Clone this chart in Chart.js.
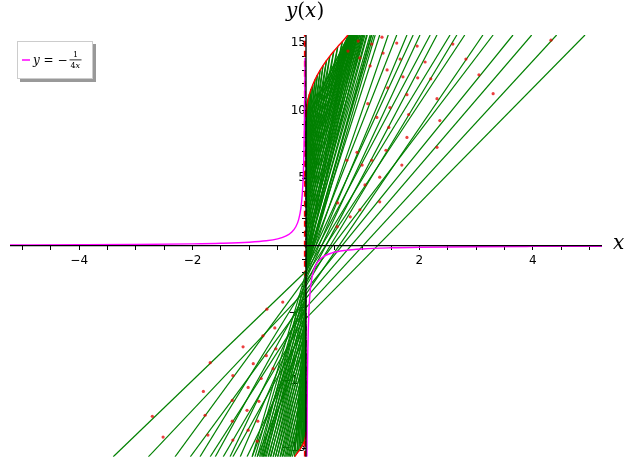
<!DOCTYPE html>
<html>
<head>
<meta charset="utf-8">
<script src="https://cdn.jsdelivr.net/npm/chart.js@4.4.0/dist/chart.umd.min.js"></script>
<style>
  html, body { margin: 0; padding: 0; background: #fff; }
  #wrap { width: 630px; height: 468px; }
</style>
</head>
<body>
<div id="wrap"><canvas id="plot" width="630" height="468"></canvas></div>
<script>
// axis ranges and ticks
var xMin = -5.22, xMax = 5.22, yMin = -15.65, yMax = 15.6;
var xTickVals = [-5, -4.5, -4, -3.5, -3, -2.5, -2, -1.5, -1, -0.5, 0.5, 1, 1.5, 2, 2.5, 3, 3.5, 4, 4.5, 5];
var yTickVals = [-15, -14, -13, -12, -11, -10, -9, -8, -7, -6, -5, -4, -3, -2, -1,
                 1, 2, 3, 4, 5, 6, 7, 8, 9, 10, 11, 12, 13, 14, 15];
var xLabels = [-4, -2, 2, 4];
var yLabels = [-15, -10, -5, 5, 10, 15];

// magenta curve y = -1/(4x), both branches
var hypLeftX = [-5.22, -4, -3, -2, -1.5, -1, -0.7, -0.5, -0.35, -0.25, -0.18, -0.13, -0.09, -0.065, -0.048, -0.036, -0.028, -0.022, -0.018];
var hypLeftY = [0.048, 0.0625, 0.083, 0.125, 0.167, 0.25, 0.357, 0.5, 0.714, 1.0, 1.39, 1.92, 2.78, 3.85, 5.21, 6.94, 8.93, 11.36, 13.89];
var hypRightX = [0.016, 0.02, 0.025, 0.032, 0.04, 0.05, 0.065, 0.085, 0.11, 0.15, 0.2, 0.3, 0.45, 0.7, 1, 1.5, 2, 3, 4, 5.22];
var hypRightY = [-15.65, -12.5, -10, -7.81, -6.25, -5, -3.85, -2.94, -2.27, -1.67, -1.25, -0.833, -0.556, -0.357, -0.25, -0.167, -0.125, -0.083, -0.0625, -0.048];

// green fan right of the axis: start on the axis (y = b), end on the top edge
var fanRightB    = [-5.4, -4.6, -3.9, -3.3, -2.6, -3.6, -2.2, -3.0, -1.9, -2.8, -1.7, -2.5, -1.6, -2.3, -1.5, -2.1, -1.4, -1.9, -1.2, -1.6, -1.0, -1.3];
var fanRightTopX = [4.92, 4.42, 3.98, 3.65, 3.30, 3.12, 2.80, 2.66, 2.54, 2.31, 2.19, 2.01, 1.89, 1.78, 1.60, 1.45, 1.30, 1.16, 1.00, 0.90, 0.83, 0.76];

// dense green bundle right of the axis, also ending on the top edge
var denseRightB    = [-2.0, -1.7, -1.4, -1.1, -0.8, -0.5, -0.2, 0.1, 0.4, 0.7, 1.0, 1.3, 1.6, 1.9, 2.2, 2.5, 2.8, 3.1, 3.4, 3.7,
                      4.0, 4.3, 4.6, 4.9, 5.2, 5.5, 5.8, 6.1, 6.4, 6.7, 7.0, 7.3, 7.6, 7.9, 8.2, 8.5, 8.8, 9.1, 9.4];
var denseRightTopX = [1.22, 1.15, 1.19, 1.08, 1.13, 1.02, 1.07, 0.98, 1.04, 0.95, 1.00, 0.92, 0.97, 0.90, 0.94, 0.88, 0.92, 0.86, 0.90, 0.85,
                      0.88, 0.83, 0.87, 0.82, 0.85, 0.81, 0.84, 0.80, 0.83, 0.79, 0.81, 0.78, 0.80, 0.77, 0.79, 0.76, 0.78, 0.75, 0.76];

// green wedge right of the axis: start on the axis, end on the red upper edge
var wedgeRightB    = [9.0, 8.2, 8.6, 7.6, 8.2, 7.0, 7.8, 6.4, 7.4, 5.8, 7.0, 5.2, 6.6, 4.6, 6.2, 4.0, 5.8, 3.4, 5.4, 2.8, 5.0, 2.2, 4.6, 1.6, 4.2, 1.0, 3.8, 0.4, 3.4, -0.2, 3.0, -0.8];
var wedgeRightEndX = [0.01, 0.01, 0.02, 0.02, 0.04, 0.04, 0.06, 0.06, 0.09, 0.09, 0.12, 0.12, 0.16, 0.16, 0.2, 0.2, 0.25, 0.25, 0.3, 0.3, 0.36, 0.36, 0.42, 0.42, 0.49, 0.49, 0.56, 0.56, 0.64, 0.64, 0.74, 0.74];
var wedgeRightEndY = [10.2, 10.2, 10.49, 10.49, 10.9, 10.9, 11.21, 11.21, 11.6, 11.6, 11.92, 11.92, 12.3, 12.3, 12.63, 12.63, 13.0, 13.0, 13.33, 13.33, 13.7, 13.7, 14.04, 14.04, 14.4, 14.4, 14.74, 14.74, 15.1, 15.1, 15.6, 15.6];

// green fan left of the axis: start on the axis, end on the bottom edge
var fanLeftB    = [-1.9, -3.3, -2.4, -4.0, -2.9, -4.6, -3.5, -5.2, -4.0, -6.0, -4.5, -6.6, -5.2, -7.3, -5.8];
var fanLeftBotX = [-3.40, -2.78, -2.31, -2.04, -1.87, -1.69, -1.60, -1.46, -1.34, -1.29, -1.16, -1.04, -0.95, -0.86, -0.76];

// dense green bundle left of the axis, also ending on the bottom edge
var denseLeftB    = [-2.0, -2.3, -2.6, -2.9, -3.2, -3.5, -3.8, -4.1, -4.4, -4.7, -5.0, -5.3, -5.6, -5.9, -6.2, -6.5,
                     -6.8, -7.1, -7.4, -7.7, -8.0, -8.3, -8.6, -8.9, -9.2, -9.5, -9.8, -10.1, -10.4, -10.7, -11.0, -11.3];
var denseLeftBotX = [-0.95, -0.82, -0.90, -0.78, -0.86, -0.74, -0.80, -0.70, -0.76, -0.66, -0.72, -0.62, -0.67, -0.58, -0.63, -0.54,
                     -0.58, -0.50, -0.54, -0.46, -0.50, -0.42, -0.45, -0.38, -0.41, -0.34, -0.36, -0.30, -0.32, -0.27, -0.28, -0.24];

// green wedge left of the axis: start on the axis, end on the red lower edge
var wedgeLeftB    = [-13.0, -12.0, -12.5, -11.0, -12.0, -10.0, -11.0, -9.0, -10.5, -8.0, -10.0, -7.0, -9.0, -6.0, -8.0, -5.0, -7.0, -4.0, -6.0, -3.5];
var wedgeLeftEndX = [-0.005, -0.005, -0.01, -0.01, -0.02, -0.02, -0.035, -0.035, -0.05, -0.05, -0.07, -0.07, -0.1, -0.1, -0.13, -0.13, -0.16, -0.16, -0.2, -0.2];
var wedgeLeftEndY = [-14.08, -14.08, -14.2, -14.2, -14.37, -14.37, -14.55, -14.55, -14.69, -14.69, -14.86, -14.86, -15.06, -15.06, -15.24, -15.24, -15.4, -15.4, -15.65, -15.65];

// red edges of the green wedges
var edgeUpX = [0, 0.01, 0.02, 0.04, 0.06, 0.09, 0.12, 0.16, 0.2, 0.25, 0.3, 0.36, 0.42, 0.49, 0.56, 0.64, 0.74];
var edgeUpY = [9.5, 10.2, 10.49, 10.9, 11.21, 11.6, 11.92, 12.3, 12.63, 13.0, 13.33, 13.7, 14.04, 14.4, 14.74, 15.1, 15.6];
var edgeLowX = [-0.2, -0.16, -0.13, -0.1, -0.07, -0.05, -0.035, -0.02, -0.01, -0.005, 0];
var edgeLowY = [-15.65, -15.4, -15.24, -15.06, -14.86, -14.69, -14.55, -14.37, -14.2, -14.08, -13.8];

// red dots sitting on the green lines
var dotX = [1.34, 1.60, 1.96, 2.59, 1.36, 1.66, 2.10, 2.82, 1.43, 1.71, 2.20, 3.05, 1.44, 1.78, 2.31, 3.30, 1.48, 1.81, 2.36,
            1.46, 1.78, 2.31, 1.41, 4.32, 0.92, 1.16, 0.74, 0.95, 1.13, 1.09, 1.25, 1.97,
            0.72, 0.90, 0.99, 1.16, 1.30, 1.69, 1.04, 0.95, 0.78, 0.56, 0.55, 1.30,
            -2.71, -2.52, -1.69, -1.81, -1.78, -1.73, -1.29, -1.30, -1.30, -1.29, -1.11, -0.93, -1.02, -1.04, -1.02,
            -0.69, -0.76, -0.70, -0.79, -0.83, -0.85, -0.86, -0.55, -0.41, -0.53, -0.58];
var dotY = [15.44, 15.0, 14.78, 14.93, 14.26, 13.82, 13.60, 13.82, 13.01, 12.5, 12.35, 12.65, 11.69, 11.18, 10.88, 11.25, 10.22, 9.71, 9.26,
            8.75, 8.01, 7.28, 7.06, 15.22, 15.15, 14.93, 14.41, 13.9, 13.31, 10.51, 9.49, 12.43,
            6.32, 6.91, 5.96, 6.32, 5.07, 5.96, 4.49, 2.65, 2.13, 3.16, 1.40, 3.24,
            -12.65, -14.19, -8.68, -10.81, -12.57, -14.04, -9.63, -11.47, -13.01, -14.41, -7.5, -8.75, -10.51, -12.21, -13.68,
            -4.71, -6.69, -8.16, -9.85, -11.54, -13.01, -14.49, -6.10, -4.19, -7.65, -9.12];

function pts(xs, ys) {
  var out = [];
  for (var i = 0; i < xs.length; i++) out.push({ x: xs[i], y: ys[i] });
  return out;
}

function fmt(v) {
  return v < 0 ? "\u2212" + Math.abs(v) : String(v);
}

var GREEN = "#008000";
var datasets = [];

datasets.push({ label: "hyp-left", data: pts(hypLeftX, hypLeftY), borderColor: "#ff00ff", borderWidth: 1.4,
                cubicInterpolationMode: "monotone", pointRadius: 0, showLine: true, order: 0 });
datasets.push({ label: "hyp-right", data: pts(hypRightX, hypRightY), borderColor: "#ff00ff", borderWidth: 1.4,
                cubicInterpolationMode: "monotone", pointRadius: 0, showLine: true, order: 0 });
datasets.push({ label: "dots", data: pts(dotX, dotY), backgroundColor: "rgba(230,0,0,0.75)", borderWidth: 0,
                pointRadius: 1.6, showLine: false, order: 1 });
datasets.push({ label: "edge-up", data: pts(edgeUpX, edgeUpY), borderColor: "#ff0000", borderWidth: 1.4,
                cubicInterpolationMode: "monotone", pointRadius: 0, showLine: true, order: 2 });
datasets.push({ label: "edge-low", data: pts(edgeLowX, edgeLowY), borderColor: "#ff0000", borderWidth: 1.4,
                pointRadius: 0, showLine: true, order: 2 });

function greenLine(x0, y0, x1, y1) {
  datasets.push({ data: [{ x: x0, y: y0 }, { x: x1, y: y1 }], borderColor: GREEN, borderWidth: 1.2,
                  pointRadius: 0, showLine: true, order: 3 });
}
for (var i = 0; i < fanRightB.length; i++) greenLine(0, fanRightB[i], fanRightTopX[i], yMax);
for (var i = 0; i < denseRightB.length; i++) greenLine(0, denseRightB[i], denseRightTopX[i], yMax);
for (var i = 0; i < wedgeRightB.length; i++) greenLine(0, wedgeRightB[i], wedgeRightEndX[i], wedgeRightEndY[i]);
for (var i = 0; i < fanLeftB.length; i++) greenLine(0, fanLeftB[i], fanLeftBotX[i], yMin);
for (var i = 0; i < denseLeftB.length; i++) greenLine(0, denseLeftB[i], denseLeftBotX[i], yMin);
for (var i = 0; i < wedgeLeftB.length; i++) greenLine(0, wedgeLeftB[i], wedgeLeftEndX[i], wedgeLeftEndY[i]);

datasets.push({ label: "x0", data: [{ x: -0.02, y: yMin }, { x: -0.02, y: yMax }], borderColor: "#ff0000",
                borderWidth: 2, borderDash: [6, 4], pointRadius: 0, showLine: true, order: 4 });

// write a run of text pieces, some italic, starting at x
function drawRuns(ctx, runs, x, y, size) {
  for (var i = 0; i < runs.length; i++) {
    ctx.font = (runs[i][1] ? "italic " : "") + size + "px 'DejaVu Serif'";
    ctx.fillText(runs[i][0], x, y);
    x += ctx.measureText(runs[i][0]).width;
  }
  return x;
}

var overlay = {
  id: "overlay",
  afterDatasetsDraw: function(chart) {
    var ctx = chart.ctx, a = chart.chartArea;
    var x0 = chart.scales.x.getPixelForValue(0), y0 = chart.scales.y.getPixelForValue(0);
    ctx.save();
    ctx.strokeStyle = "#000";
    ctx.lineWidth = 1.3;
    ctx.beginPath();
    ctx.moveTo(a.left, y0); ctx.lineTo(a.right, y0);
    ctx.moveTo(x0, a.top); ctx.lineTo(x0, a.bottom);
    ctx.stroke();
    ctx.restore();
  },
  afterDraw: function(chart) {
    var ctx = chart.ctx, a = chart.chartArea;
    var x0 = chart.scales.x.getPixelForValue(0), y0 = chart.scales.y.getPixelForValue(0);
    ctx.save();
    ctx.fillStyle = "#000";
    ctx.textBaseline = "alphabetic";
    ctx.textAlign = "left";
    // axis titles
    drawRuns(ctx, [["y", true], ["(", false], ["x", true], [")", false]], x0 - 20, 17, 20);
    drawRuns(ctx, [["x", true]], a.right + 11, y0 + 3, 20);

    // legend box with shadow
    ctx.fillStyle = "#999";
    ctx.fillRect(20, 44, 76, 38);
    ctx.fillStyle = "#fff";
    ctx.fillRect(17, 41, 76, 38);
    ctx.strokeStyle = "#ccc";
    ctx.lineWidth = 1;
    ctx.strokeRect(17.5, 41.5, 75, 37);
    ctx.strokeStyle = "#ff00ff";
    ctx.lineWidth = 1.5;
    ctx.beginPath(); ctx.moveTo(22, 60); ctx.lineTo(30, 60); ctx.stroke();
    ctx.fillStyle = "#000";
    var tx = drawRuns(ctx, [["y", true], [" = \u2212", false]], 33, 64, 12);
    ctx.font = "8px 'DejaVu Serif'";
    ctx.textAlign = "center";
    ctx.fillText("1", tx + 8, 57);
    ctx.fillRect(tx + 2, 59.5, 12, 0.8);
    ctx.textAlign = "left";
    ctx.fillText("4", tx + 3, 68);
    ctx.font = "italic 8px 'DejaVu Serif'";
    ctx.fillText("x", tx + 8, 68);
    ctx.restore();
  }
};

function tickScale(vals) {
  return function(scale) {
    scale.ticks = vals.map(function(v) { return { value: v }; });
  };
}

new Chart(document.getElementById("plot"), {
  type: "scatter",
  data: { datasets: datasets },
  options: {
    responsive: false,
    animation: false,
    events: [],
    layout: { padding: { left: 10, right: 28, top: 35, bottom: 10 } },
    elements: { line: { tension: 0 } },
    plugins: { legend: { display: false }, tooltip: { enabled: false }, title: { display: false } },
    scales: {
      x: {
        type: "linear", min: xMin, max: xMax, position: { y: 0 },
        afterBuildTicks: tickScale(xTickVals),
        border: { display: false },
        grid: { drawOnChartArea: false, drawTicks: true, tickLength: 4, tickColor: "#000", tickWidth: 1 },
        ticks: { autoSkip: false, maxRotation: 0, color: "#000", padding: 4,
                 font: { family: "'DejaVu Sans'", size: 12 },
                 callback: function(v) { return xLabels.indexOf(v) >= 0 ? fmt(v) : ""; } }
      },
      y: {
        type: "linear", min: yMin, max: yMax, position: { x: 0 },
        afterBuildTicks: tickScale(yTickVals),
        border: { display: false },
        grid: { drawOnChartArea: false, drawTicks: true, tickLength: 4, tickColor: "#000", tickWidth: 1 },
        ticks: { autoSkip: false, color: "#000", padding: 4,
                 font: { family: "'DejaVu Sans'", size: 12 },
                 callback: function(v) { return yLabels.indexOf(v) >= 0 ? fmt(v) : ""; } }
      }
    }
  },
  plugins: [overlay]
});
</script>
</body>
</html>
